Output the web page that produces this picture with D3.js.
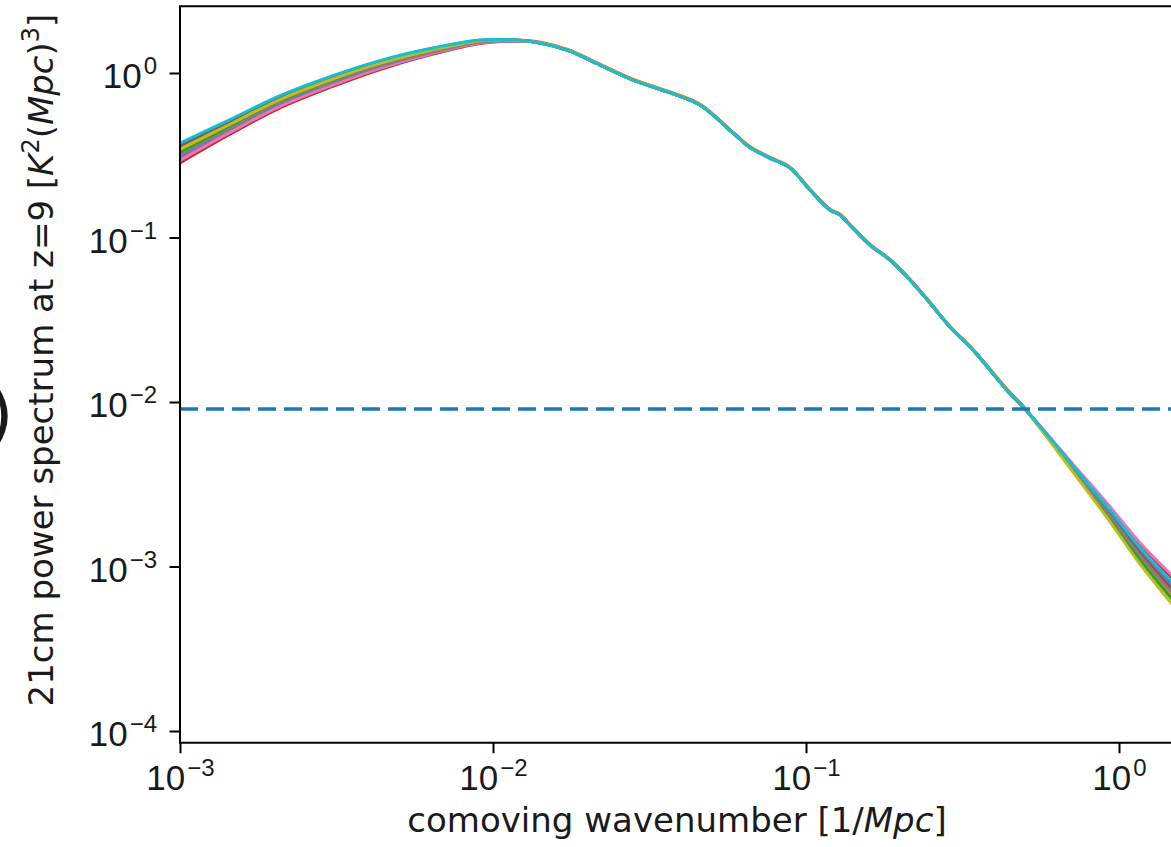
<!DOCTYPE html>
<html lang="en">
<head>
<meta charset="utf-8" />
<title>21cm power spectrum at z=9</title>
<script src="https://cdn.jsdelivr.net/npm/d3@7"></script>
<style>
  body{margin:0;background:#fff;overflow:hidden}
  svg{display:block;font-family:"DejaVu Sans",sans-serif}
  .spine{stroke:#000;stroke-width:2;fill:none}
  .tick line{stroke:#000;stroke-width:2}
  .tick text{font-size:35px;fill:#1a1a1a}
  .curve{fill:none;stroke-width:3;stroke-linejoin:round}
  .lbl{font-size:34px;fill:#1a1a1a}
</style>
</head>
<body>
<svg id="chart" width="1171" height="847"></svg>
<script>
/* ---------- data ---------- */
const kVals=[0.001,0.001444,0.002087,0.003014,0.004355,0.00629,0.009087,0.01133,0.01342,0.01723,0.02197,0.02801,0.03596,0.04584,0.05844,0.06623,0.07674,0.08888,0.1030,0.1193,0.1284,0.1382,0.1601,0.1855,0.2149,0.2489,0.2884,0.3416,0.4385,0.5008,0.5594,0.7129,0.9154,1.167,1.48];

const pBlue  =[0.366,0.512,0.719,0.939,1.178,1.398,1.581,1.591,1.549,1.380,1.118,0.906,0.770,0.639,0.432,0.352,0.304,0.265,0.1945,0.147,0.137,0.119,0.0900,0.0729,0.0552,0.0400,0.0286,0.0207,0.0118,0.00907,0.00709,0.00405,0.00228,0.001271,0.000776];
const pOrange=[0.336,0.480,0.681,0.895,1.132,1.360,1.557,1.580,1.568,1.397,1.131,0.917,0.779,0.647,0.437,0.357,0.308,0.268,0.197,0.149,0.139,0.1205,0.0911,0.0738,0.0559,0.0405,0.0289,0.0209,0.0120,0.00918,0.00700,0.00387,0.00210,0.001128,0.000660];
const pGreen =[0.327,0.470,0.669,0.882,1.118,1.348,1.549,1.576,1.549,1.380,1.118,0.906,0.770,0.639,0.432,0.352,0.304,0.265,0.1945,0.147,0.137,0.119,0.0900,0.0729,0.0552,0.0400,0.0286,0.0207,0.0118,0.00907,0.00697,0.00382,0.00205,0.001091,0.000631];
const pRed   =[0.284,0.424,0.614,0.817,1.051,1.289,1.511,1.559,1.549,1.380,1.118,0.906,0.770,0.639,0.432,0.352,0.304,0.265,0.1945,0.147,0.137,0.119,0.0900,0.0729,0.0552,0.0400,0.0286,0.0207,0.0118,0.00907,0.00714,0.00415,0.00238,0.001361,0.000851];
const pPurple=[0.305,0.446,0.641,0.849,1.084,1.318,1.530,1.568,1.549,1.380,1.118,0.906,0.770,0.639,0.432,0.352,0.304,0.265,0.1945,0.147,0.137,0.119,0.0900,0.0729,0.0552,0.0400,0.0286,0.0207,0.0118,0.00907,0.00707,0.00401,0.00224,0.001239,0.000749];
const pBrown =[0.354,0.499,0.703,0.922,1.160,1.383,1.571,1.586,1.549,1.380,1.118,0.906,0.770,0.639,0.432,0.352,0.304,0.265,0.1945,0.147,0.137,0.119,0.0900,0.0729,0.0552,0.0400,0.0286,0.0207,0.0118,0.00907,0.00705,0.00397,0.00220,0.001208,0.000724];
const pPink  =[0.294,0.435,0.627,0.833,1.068,1.304,1.520,1.563,1.549,1.380,1.118,0.906,0.770,0.639,0.432,0.352,0.304,0.265,0.1945,0.147,0.137,0.119,0.0900,0.0729,0.0552,0.0400,0.0286,0.0207,0.0118,0.00907,0.00716,0.00419,0.00243,0.001396,0.000881];
const pGray  =[0.316,0.458,0.655,0.865,1.101,1.333,1.539,1.572,1.549,1.380,1.118,0.906,0.770,0.639,0.432,0.352,0.304,0.265,0.1945,0.147,0.137,0.119,0.0900,0.0729,0.0552,0.0400,0.0286,0.0207,0.0118,0.00907,0.00702,0.00392,0.00215,0.001168,0.000691];
const pOlive =[0.344,0.488,0.690,0.907,1.144,1.370,1.563,1.583,1.549,1.380,1.118,0.906,0.770,0.639,0.432,0.352,0.304,0.265,0.1945,0.147,0.137,0.119,0.0900,0.0729,0.0552,0.0400,0.0286,0.0207,0.0118,0.00907,0.00693,0.00375,0.00198,0.001036,0.000588];
const pCyan  =[0.375,0.521,0.729,0.951,1.190,1.408,1.588,1.594,1.549,1.380,1.118,0.906,0.770,0.639,0.432,0.352,0.304,0.265,0.1945,0.147,0.137,0.119,0.0900,0.0729,0.0552,0.0400,0.0286,0.0207,0.0118,0.00907,0.00711,0.00409,0.00232,0.001304,0.000803];

const seriesList=[pBlue,pOrange,pGreen,pRed,pPurple,pBrown,pPink,pGray,pOlive,pCyan];
const seriesColors=['#1f77b4','#ff7f0e','#2ca02c','#d62728','#9467bd','#8c564b','#e377c2','#7f7f7f','#bcbd22','#17becf'];

const threshold=0.00906;          // dashed horizontal line
const xTickExps=[-3,-2,-1,0];
const yTickExps=[-4,-3,-2,-1,0];

/* ---------- layout ---------- */
const box={left:180,right:1174,top:6.3,bottom:742.7};
const x=d3.scaleLog().domain([1e-3,Math.pow(10,0.1757)]).range([box.left,box.right]);
const y=d3.scaleLog().domain([Math.pow(10,-4.0711),Math.pow(10,0.4055)]).range([box.bottom,box.top]);

const svg=d3.select('#chart');

svg.append('clipPath').attr('id','clip')
  .append('rect').attr('x',box.left).attr('y',box.top)
  .attr('width',box.right-box.left).attr('height',box.bottom-box.top);

const plot=svg.append('g').attr('clip-path','url(#clip)');

/* ---------- curves ---------- */
const line=d3.line()
  .x(d=>x(d[0])).y(d=>y(d[1]))
  .curve(d3.curveCatmullRom.alpha(0.5));

seriesList.forEach((vals,i)=>{
  plot.append('path').attr('class','curve')
    .attr('stroke',seriesColors[i])
    .attr('d',line(kVals.map((k,j)=>[k,vals[j]])));
});

plot.append('line')
  .attr('x1',box.left).attr('x2',box.right)
  .attr('y1',y(threshold)).attr('y2',y(threshold))
  .attr('stroke','#1f77b4').attr('stroke-width',3.4)
  .attr('stroke-dasharray','18,8');

/* ---------- axes ---------- */
const minors=(exps,dom)=>{
  const out=[];
  for(let e=exps[0]-1;e<=exps[exps.length-1]+1;e++)
    for(let m=2;m<=9;m++){const v=m*Math.pow(10,e);if(v>=dom[0]&&v<=dom[1])out.push(v);}
  return out;
};

function powLabel(sel){
  sel.each(function(d){
    const t=d3.select(this).text(null);
    const e=Math.round(Math.log10(d));
    t.append('tspan').text('10');
    t.append('tspan').attr('dx',2).attr('dy',-14).attr('font-size','24px')
      .text(e<0?'\u2212'+(-e):String(e));
  });
}

const gx=svg.append('g').attr('transform',`translate(0,${box.bottom})`);
gx.call(d3.axisBottom(x).tickValues(minors(xTickExps,x.domain())).tickSize(6).tickFormat(''));
gx.call(d3.axisBottom(x).tickValues(xTickExps.map(e=>Math.pow(10,e))).tickSize(10.5));
gx.selectAll('.domain').remove();
gx.selectAll('.tick text').attr('y',47.5).attr('dy',0).call(powLabel);

const gy=svg.append('g').attr('transform',`translate(${box.left},0)`);
gy.call(d3.axisLeft(y).tickValues(minors(yTickExps,y.domain())).tickSize(6).tickFormat(''));
gy.call(d3.axisLeft(y).tickValues(yTickExps.map(e=>Math.pow(10,e))).tickSize(10.5));
gy.selectAll('.domain').remove();
gy.selectAll('.tick text').attr('x',-23).attr('dy',0).attr('y',14.5).call(powLabel);

/* spines: left, top, bottom (right one sits just past the crop) */
svg.append('path').attr('class','spine')
  .attr('d',`M${box.right},${box.top}H${box.left}V${box.bottom}H${box.right}`);

/* ---------- labels ---------- */
function richText(g,parts){
  parts.forEach(p=>{
    const ts=g.append('tspan').text(p.t);
    if(p.it) ts.attr('font-style','italic');
    if(p.sup) ts.attr('dy',-14).attr('font-size','24px');
    if(p.down) ts.attr('dy',14);
  });
}

const xl=svg.append('text').attr('class','lbl')
  .attr('x',677).attr('y',832).attr('text-anchor','middle');
richText(xl,[{t:'comoving wavenumber [1/'},{t:'Mpc',it:true},{t:']'}]);

const yl=svg.append('text').attr('class','lbl')
  .attr('transform','translate(53,360) rotate(-90)').attr('text-anchor','middle');
richText(yl,[{t:'21cm power spectrum at z=9 ['},{t:'K',it:true},{t:'2',sup:true},
  {t:'(',down:true},{t:'Mpc',it:true},{t:')'},{t:'3',sup:true},{t:']',down:true}]);

/* stray bracket cut off at the left edge of the crop */
svg.append('text').attr('x',-13).attr('y',438)
  .attr('font-size','68px').attr('fill','#1a1a1a').text(')');
</script>
</body>
</html>
